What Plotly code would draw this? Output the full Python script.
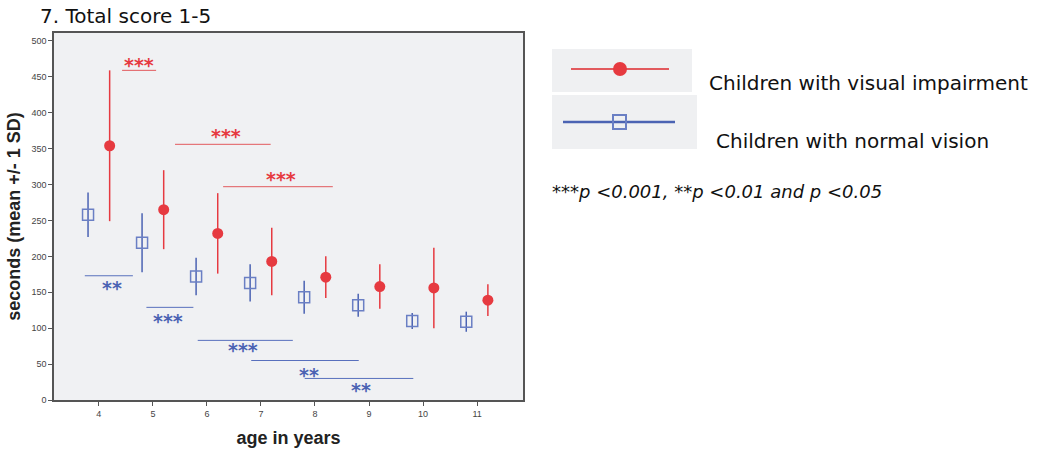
import plotly.graph_objects as go

# ---- data ----
ages = [4, 5, 6, 7, 8, 9, 10, 11]
vi_mean = [354, 265, 232, 193, 171, 158, 156, 139]
vi_sd = [105, 55, 56, 47, 29, 31, 56, 22]
nv_mean = [258, 219, 172, 163, 143, 132, 110, 109]
nv_sd = [31, 41, 26, 26, 23, 16, 11, 14]

# significance brackets: start age, end age, level, label, label position
red_x0 = [4.43, 5.41, 6.30]
red_x1 = [5.06, 7.18, 8.33]
red_y = [459, 356, 297]
red_lab = ["***", "***", "***"]
red_lab_x = [4.74, 6.36, 7.38]
red_lab_y = [469, 370, 310]

blue_x0 = [3.74, 4.88, 5.83, 6.82, 7.81]
blue_x1 = [4.63, 5.75, 7.59, 8.81, 9.82]
blue_y = [173, 129, 83, 55, 30]
blue_lab = ["**", "***", "***", "**", "**"]
blue_lab_x = [4.25, 5.28, 6.67, 7.89, 8.85]
blue_lab_y = [161, 116, 75, 41, 19]

RED = "#e63a40"
BLUE = "#4b63b3"
RED_LINE = "#e25a5e"
BLUE_LINE = "#5870bd"

fig = go.Figure()

fig.add_trace(go.Scatter(
    x=[a + 0.2 for a in ages], y=vi_mean, mode="markers",
    marker=dict(symbol="circle", size=11, color=RED),
    error_y=dict(type="data", array=vi_sd, visible=True, color=RED, thickness=1.5, width=0),
    name="Children with visual impairment", showlegend=False))

fig.add_trace(go.Scatter(
    x=[a - 0.2 for a in ages], y=nv_mean, mode="markers",
    marker=dict(symbol="square-open", size=11, color="#6a7fc4", line=dict(width=1.5)),
    error_y=dict(type="data", array=nv_sd, visible=True, color=BLUE, thickness=1.5, width=0),
    name="Children with normal vision", showlegend=False))

shapes = []
annotations = []
for x0, x1, y in zip(red_x0, red_x1, red_y):
    shapes.append(dict(type="line", xref="x", yref="y", x0=x0, x1=x1, y0=y, y1=y,
                       line=dict(color=RED_LINE, width=1)))
for t, x, y in zip(red_lab, red_lab_x, red_lab_y):
    annotations.append(dict(x=x, y=y, xref="x", yref="y", text="<b>" + t + "</b>", showarrow=False,
                            yanchor="middle", yshift=-2,
                            font=dict(family="DejaVu Sans", size=19, color=RED)))
for x0, x1, y in zip(blue_x0, blue_x1, blue_y):
    shapes.append(dict(type="line", xref="x", yref="y", x0=x0, x1=x1, y0=y, y1=y,
                       line=dict(color=BLUE_LINE, width=1)))
for t, x, y in zip(blue_lab, blue_lab_x, blue_lab_y):
    annotations.append(dict(x=x, y=y, xref="x", yref="y", text="<b>" + t + "</b>", showarrow=False,
                            yanchor="middle", yshift=-4,
                            font=dict(family="DejaVu Sans", size=19, color=BLUE)))

# legend boxes (pixel positions converted to paper coords)
W, H = 1037, 449
L, R, T, B = 54, 514, 33, 49
pw, ph = W - L - R, H - T - B
def px(x):
    return (x - L) / pw
def py(y):
    return (H - B - y) / ph

shapes += [
    dict(type="rect", xref="paper", yref="paper", x0=px(552), x1=px(692), y0=py(92), y1=py(49),
         fillcolor="#eff0f2", line=dict(width=0), layer="below"),
    dict(type="rect", xref="paper", yref="paper", x0=px(552), x1=px(697), y0=py(149), y1=py(95),
         fillcolor="#eff0f2", line=dict(width=0), layer="below"),
    dict(type="line", xref="paper", yref="paper", x0=px(571), x1=px(669), y0=py(69), y1=py(69),
         line=dict(color=RED_LINE, width=2)),
    dict(type="circle", xref="paper", yref="paper", x0=px(613), x1=px(627), y0=py(76), y1=py(62),
         fillcolor=RED, line=dict(color=RED, width=0)),
    dict(type="line", xref="paper", yref="paper", x0=px(563), x1=px(675), y0=py(122), y1=py(122),
         line=dict(color=BLUE, width=2.5)),
    dict(type="rect", xref="paper", yref="paper", x0=px(613), x1=px(626), y0=py(129), y1=py(115),
         fillcolor="rgba(0,0,0,0)", line=dict(color="#6a7fc4", width=2)),
]

annotations += [
    dict(x=px(707), y=py(83), xref="paper", yref="paper", xanchor="left", yanchor="middle",
         text="Children with visual impairment", showarrow=False,
         font=dict(family="DejaVu Sans", size=20, color="#111")),
    dict(x=px(714), y=py(141), xref="paper", yref="paper", xanchor="left", yanchor="middle",
         text="Children with normal vision", showarrow=False,
         font=dict(family="DejaVu Sans", size=20, color="#111")),
    dict(x=px(550), y=py(191), xref="paper", yref="paper", xanchor="left", yanchor="middle",
         text="<i>***p <0.001, **p <0.01 and p <0.05</i>", showarrow=False,
         font=dict(family="DejaVu Sans", size=18, color="#111")),
    dict(x=px(38), y=py(16), xref="paper", yref="paper", xanchor="left", yanchor="middle",
         text="7. Total score 1-5", showarrow=False,
         font=dict(family="DejaVu Sans", size=20, color="#111")),
]

fig.update_layout(
    width=W, height=H,
    margin=dict(l=L, r=R, t=T, b=B),
    paper_bgcolor="white", plot_bgcolor="#f0f1f3",
    shapes=shapes, annotations=annotations,
    xaxis=dict(range=[3.17, 11.85], tickvals=ages, ticks="outside", ticklen=4,
               tickcolor="#555", showgrid=False, zeroline=False, automargin=False,
               showline=True, linecolor="#555", linewidth=1.5, mirror=True,
               tickfont=dict(family="Liberation Sans", size=9, color="#444"),
               title=dict(text="<b>age in years</b>", standoff=14,
                          font=dict(family="Liberation Sans", size=18, color="#222"))),
    yaxis=dict(range=[0, 511], tickvals=list(range(0, 501, 50)), ticks="outside", ticklen=4,
               tickcolor="#555", showgrid=False, zeroline=False, automargin=False,
               showline=True, linecolor="#555", linewidth=1.5, mirror=True,
               tickfont=dict(family="Liberation Sans", size=9, color="#444"),
               title=dict(text="<b>seconds (mean +/- 1 SD)</b>", standoff=6,
                          font=dict(family="Liberation Sans", size=18, color="#222"))),
)

fig.write_html("out.html", config={"displayModeBar": False},
               post_script="document.body.style.margin='0';")
